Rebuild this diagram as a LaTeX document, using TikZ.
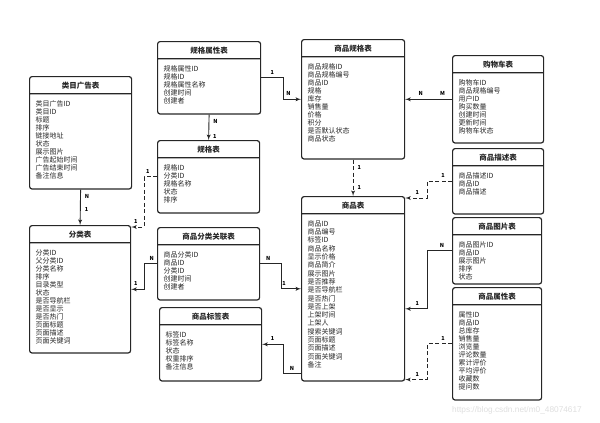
\documentclass[tikz,border=0pt]{standalone}
\usepackage{fontspec}
\setmainfont{Noto Sans CJK SC}
\setsansfont{Liberation Sans}
\usetikzlibrary{shapes,arrows,calc}
\tikzstyle{line} = [draw, -latex', line width=0.9pt, black!85]
\tikzstyle{dline} = [line, dash pattern=on 4pt off 2.5pt]
\tikzstyle{entity} = [draw=black!85, line width=1.2pt, rounded corners=2.5pt, rectangle split, rectangle split parts=2, inner sep=0pt, anchor=north west, font=\fontsize{7}{8}\selectfont, text=black!85]
\tikzstyle{lbl} = [font=\fontsize{5.5}{6}\selectfont\bfseries, inner sep=1pt, text=black]
\newcommand{\tblhead}[2]{\parbox[c][16pt][c]{#1}{\centering\fontsize{7.5}{8}\selectfont\bfseries #2}}
\newcommand{\tblbody}[3]{\parbox[c][#2][t]{#1}{\vspace{6pt}\leftskip=6pt\relax #3\par}}

\begin{document}
\begin{tikzpicture}[x=1pt, y=-1pt]
        \useasboundingbox (0,0) rectangle (600,423);
        % tables
        \node[entity] (catad) at (29,76) {\tblhead{102pt}{类目广告表}\nodepart{two}\tblbody{102pt}{94pt}{类目广告ID\\类目ID\\标题\\排序\\链接地址\\状态\\展示图片\\广告起始时间\\广告结束时间\\备注信息}};
        \node[entity] (specattr) at (157,41) {\tblhead{103pt}{规格属性表}\nodepart{two}\tblbody{103pt}{54pt}{规格属性ID\\规格ID\\规格属性名称\\创建时间\\创建者}};
        \node[entity] (goodsspec) at (301,39) {\tblhead{103pt}{商品规格表}\nodepart{two}\tblbody{103pt}{101pt}{商品规格ID\\商品规格编号\\商品ID\\规格\\库存\\销售量\\价格\\积分\\是否默认状态\\商品状态}};
        \node[entity] (cart) at (452,55) {\tblhead{91pt}{购物车表}\nodepart{two}\tblbody{91pt}{69pt}{购物车ID\\商品规格编号\\用户ID\\购买数量\\创建时间\\更新时间\\购物车状态}};
        \node[entity] (spec) at (157,140) {\tblhead{102pt}{规格表}\nodepart{two}\tblbody{102pt}{54pt}{规格ID\\分类ID\\规格名称\\状态\\排序}};
        \node[entity] (category) at (29,225) {\tblhead{101pt}{分类表}\nodepart{two}\tblbody{101pt}{109pt}{分类ID\\父分类ID\\分类名称\\排序\\目录类型\\状态\\是否导航栏\\是否显示\\是否热门\\页面标题\\页面描述\\页面关键词}};
        \node[entity] (goodscat) at (157,227) {\tblhead{102pt}{商品分类关联表}\nodepart{two}\tblbody{102pt}{54pt}{商品分类ID\\商品ID\\分类ID\\创建时间\\创建者}};
        \node[entity] (tag) at (159,307) {\tblhead{102pt}{商品标签表}\nodepart{two}\tblbody{102pt}{55pt}{标签ID\\标签名称\\状态\\权重排序\\备注信息}};
        \node[entity, font=\fontsize{7}{8.3}\selectfont] (goods) at (301,196) {\tblhead{103pt}{商品表}\nodepart{two}\tblbody{103pt}{166pt}{商品ID\\商品编号\\标签ID\\商品名称\\显示价格\\商品简介\\展示图片\\是否推荐\\是否导航栏\\是否热门\\是否上架\\上架时间\\上架人\\搜索关键词\\页面标题\\页面描述\\页面关键词\\备注}};
        \node[entity] (desc) at (452,148) {\tblhead{91pt}{商品描述表}\nodepart{two}\tblbody{91pt}{47pt}{商品描述ID\\商品ID\\商品描述}};
        \node[entity] (pic) at (452,217) {\tblhead{89pt}{商品图片表}\nodepart{two}\tblbody{89pt}{48pt}{商品图片ID\\商品ID\\展示图片\\排序\\状态}};
        \node[entity] (attr) at (452,287) {\tblhead{89pt}{商品属性表}\nodepart{two}\tblbody{89pt}{94pt}{属性ID\\商品ID\\总库存\\销售量\\浏览量\\评论数量\\累计评价\\平均评价\\收藏数\\提问数}};
        \node[font=\sffamily\fontsize{8.3}{9}\selectfont, text=black!13] (mark) at (517,410) {https://blog.csdn.net/m0\_48074617};
        % relations
        \path[line] (catad.south) -- node[lbl, right=3pt, pos=0.2] {N} node[lbl, right=3pt, pos=0.55] {1} (category.north);
        \path[line] (specattr.south) -- node[lbl, right=3pt, pos=0.25] {N} node[lbl, right=3pt, pos=0.86] {1} (spec.north);
        \path[line] (specattr.east) -- node[lbl, above=2pt] {1} ++(22,0) |- node[lbl, above=2pt, pos=0.65] {N} (goodsspec.west);
        \path[line] (cart.west) -- node[lbl, above=2pt, pos=0.2] {M} node[lbl, above=2pt, pos=0.67] {N} (goodsspec.east);
        \path[dline] (goodsspec.south) -- node[lbl, right=3pt, pos=0.22] {1} node[lbl, right=3pt, pos=0.78] {1} (goods.north);
        \path[dline] (spec.west) -- node[lbl, above=2pt, pos=0.7] {1} ++(-13,0) |- node[lbl, above=2pt, pos=0.82] {1} ([yshift=-2pt]category.north east);
        \path[line] (goodscat.west) -- node[lbl, above=2pt, pos=0.4] {N} ++(-13,0) |- node[lbl, above=2pt, pos=0.82] {1} (category.east);
        \path[line] (goodscat.east) -- node[lbl, above=2pt, pos=0.38] {N} ++(21,0) |- node[lbl, above=2pt, pos=0.57] {1} (goods.west);
        \path[line] ([yshift=-85pt]goods.west) -- node[lbl, above=2pt] {N} ++(-18,0) |- node[lbl, above=2pt, pos=0.75] {1} (tag.east);
        \path[dline] (desc.west) -- node[lbl, above=2pt, pos=0.36] {1} ++(-25,0) |- node[lbl, above=2pt, pos=0.72] {1} ([yshift=-2pt]goods.north east);
        \path[line] (pic.west) -- node[lbl, above=2pt, pos=0.4] {N} ++(-25,0) |- node[lbl, above=2pt, pos=0.72] {1} ([yshift=-20pt]goods.east);
        \path[dline] (attr.west) -- node[lbl, above=2pt, pos=0.36] {1} ++(-25,0) |- node[lbl, above=2pt, pos=0.72] {1} ([yshift=2pt]goods.south east);
\end{tikzpicture}
\end{document}
